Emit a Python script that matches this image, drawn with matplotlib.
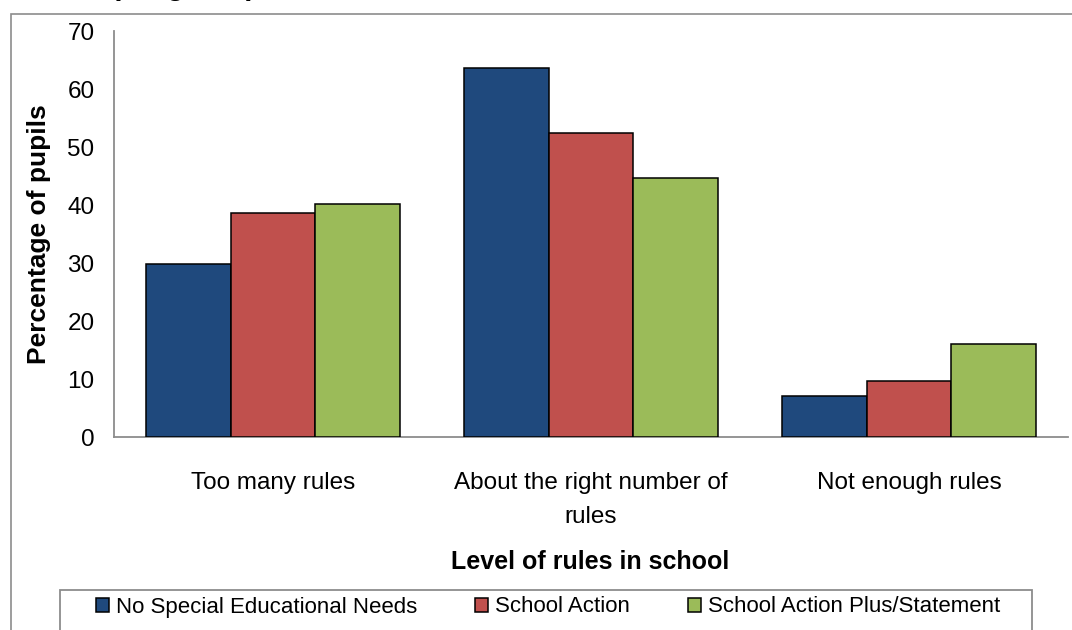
import numpy as np
import matplotlib
matplotlib.use("Agg")
import matplotlib.pyplot as plt
from matplotlib.patches import Rectangle

plt.rcParams["font.family"] = ["Liberation Sans", "DejaVu Sans"]

# --- Data ---
categories = ["Too many rules", "About the right number of\nrules", "Not enough rules"]
series_names = ["No Special Educational Needs", "School Action", "School Action Plus/Statement"]
no_sen      = [29.8, 63.6, 7.1]
school_act  = [38.6, 52.4, 9.7]
action_plus = [40.2, 44.7, 16.0]
colors = ["#1F497D", "#C0504D", "#9BBB59"]

W, H = 1072, 630
fig = plt.figure(figsize=(W / 100, H / 100), dpi=100)

# chart area frame (cut off on right/bottom)
fig.patches.append(Rectangle((11 / W, -0.1), 1.2, 1 - 14 / H + 0.1,
                             transform=fig.transFigure, fill=False,
                             edgecolor="#8c8c8c", linewidth=1.2))

# title fragment cut off at top
fig.text(110 / W, 1.0 + 5 / H, "(weighted)", fontsize=21, fontweight="bold",
         ha="left", va="baseline")

ax = fig.add_axes([114 / W, 1 - 437 / H, (1068 - 114) / W, (437 - 31) / H])

x = np.arange(len(categories))
width = 0.8 / 3
for i, (vals, name) in enumerate(zip([no_sen, school_act, action_plus], series_names)):
    ax.bar(x + (i - 1) * width, vals, width, color=colors[i], edgecolor="black",
           linewidth=1.1, label=name, zorder=3)

ax.set_xlim(-0.5, len(categories) - 0.5)
ax.set_ylim(0, 70)
ax.set_yticks(range(0, 71, 10))
ax.set_xticks(x)
ax.set_xticklabels(categories, fontsize=17.5, linespacing=1.75)
ax.tick_params(axis="y", labelsize=17.5, length=0, pad=14)
ax.tick_params(axis="x", length=0, pad=25)
for s in ["top", "right"]:
    ax.spines[s].set_visible(False)
for s in ["left", "bottom"]:
    ax.spines[s].set_color("#8c8c8c")
    ax.spines[s].set_linewidth(1.3)

ax.set_ylabel("Percentage of pupils", fontsize=19, fontweight="bold", labelpad=12)
fig.text(590 / W, 1 - 562 / H, "Level of rules in school", fontsize=18,
         fontweight="bold", ha="center", va="center")

# legend box drawn separately so the entries can be spaced like the original
fig.patches.append(Rectangle((60 / W, -2 / H), 972 / W, 42 / H,
                             transform=fig.transFigure, fill=False,
                             edgecolor="#8c8c8c", linewidth=1.3))
leg = fig.legend(loc="center", bbox_to_anchor=(548 / W, 1 - 607 / H),
                 ncol=3, fontsize=16, frameon=False,
                 handlelength=0.6, handleheight=0.6, handletextpad=0.3,
                 columnspacing=2.6, borderaxespad=0, borderpad=0)

fig.savefig("out.png", dpi=100)
